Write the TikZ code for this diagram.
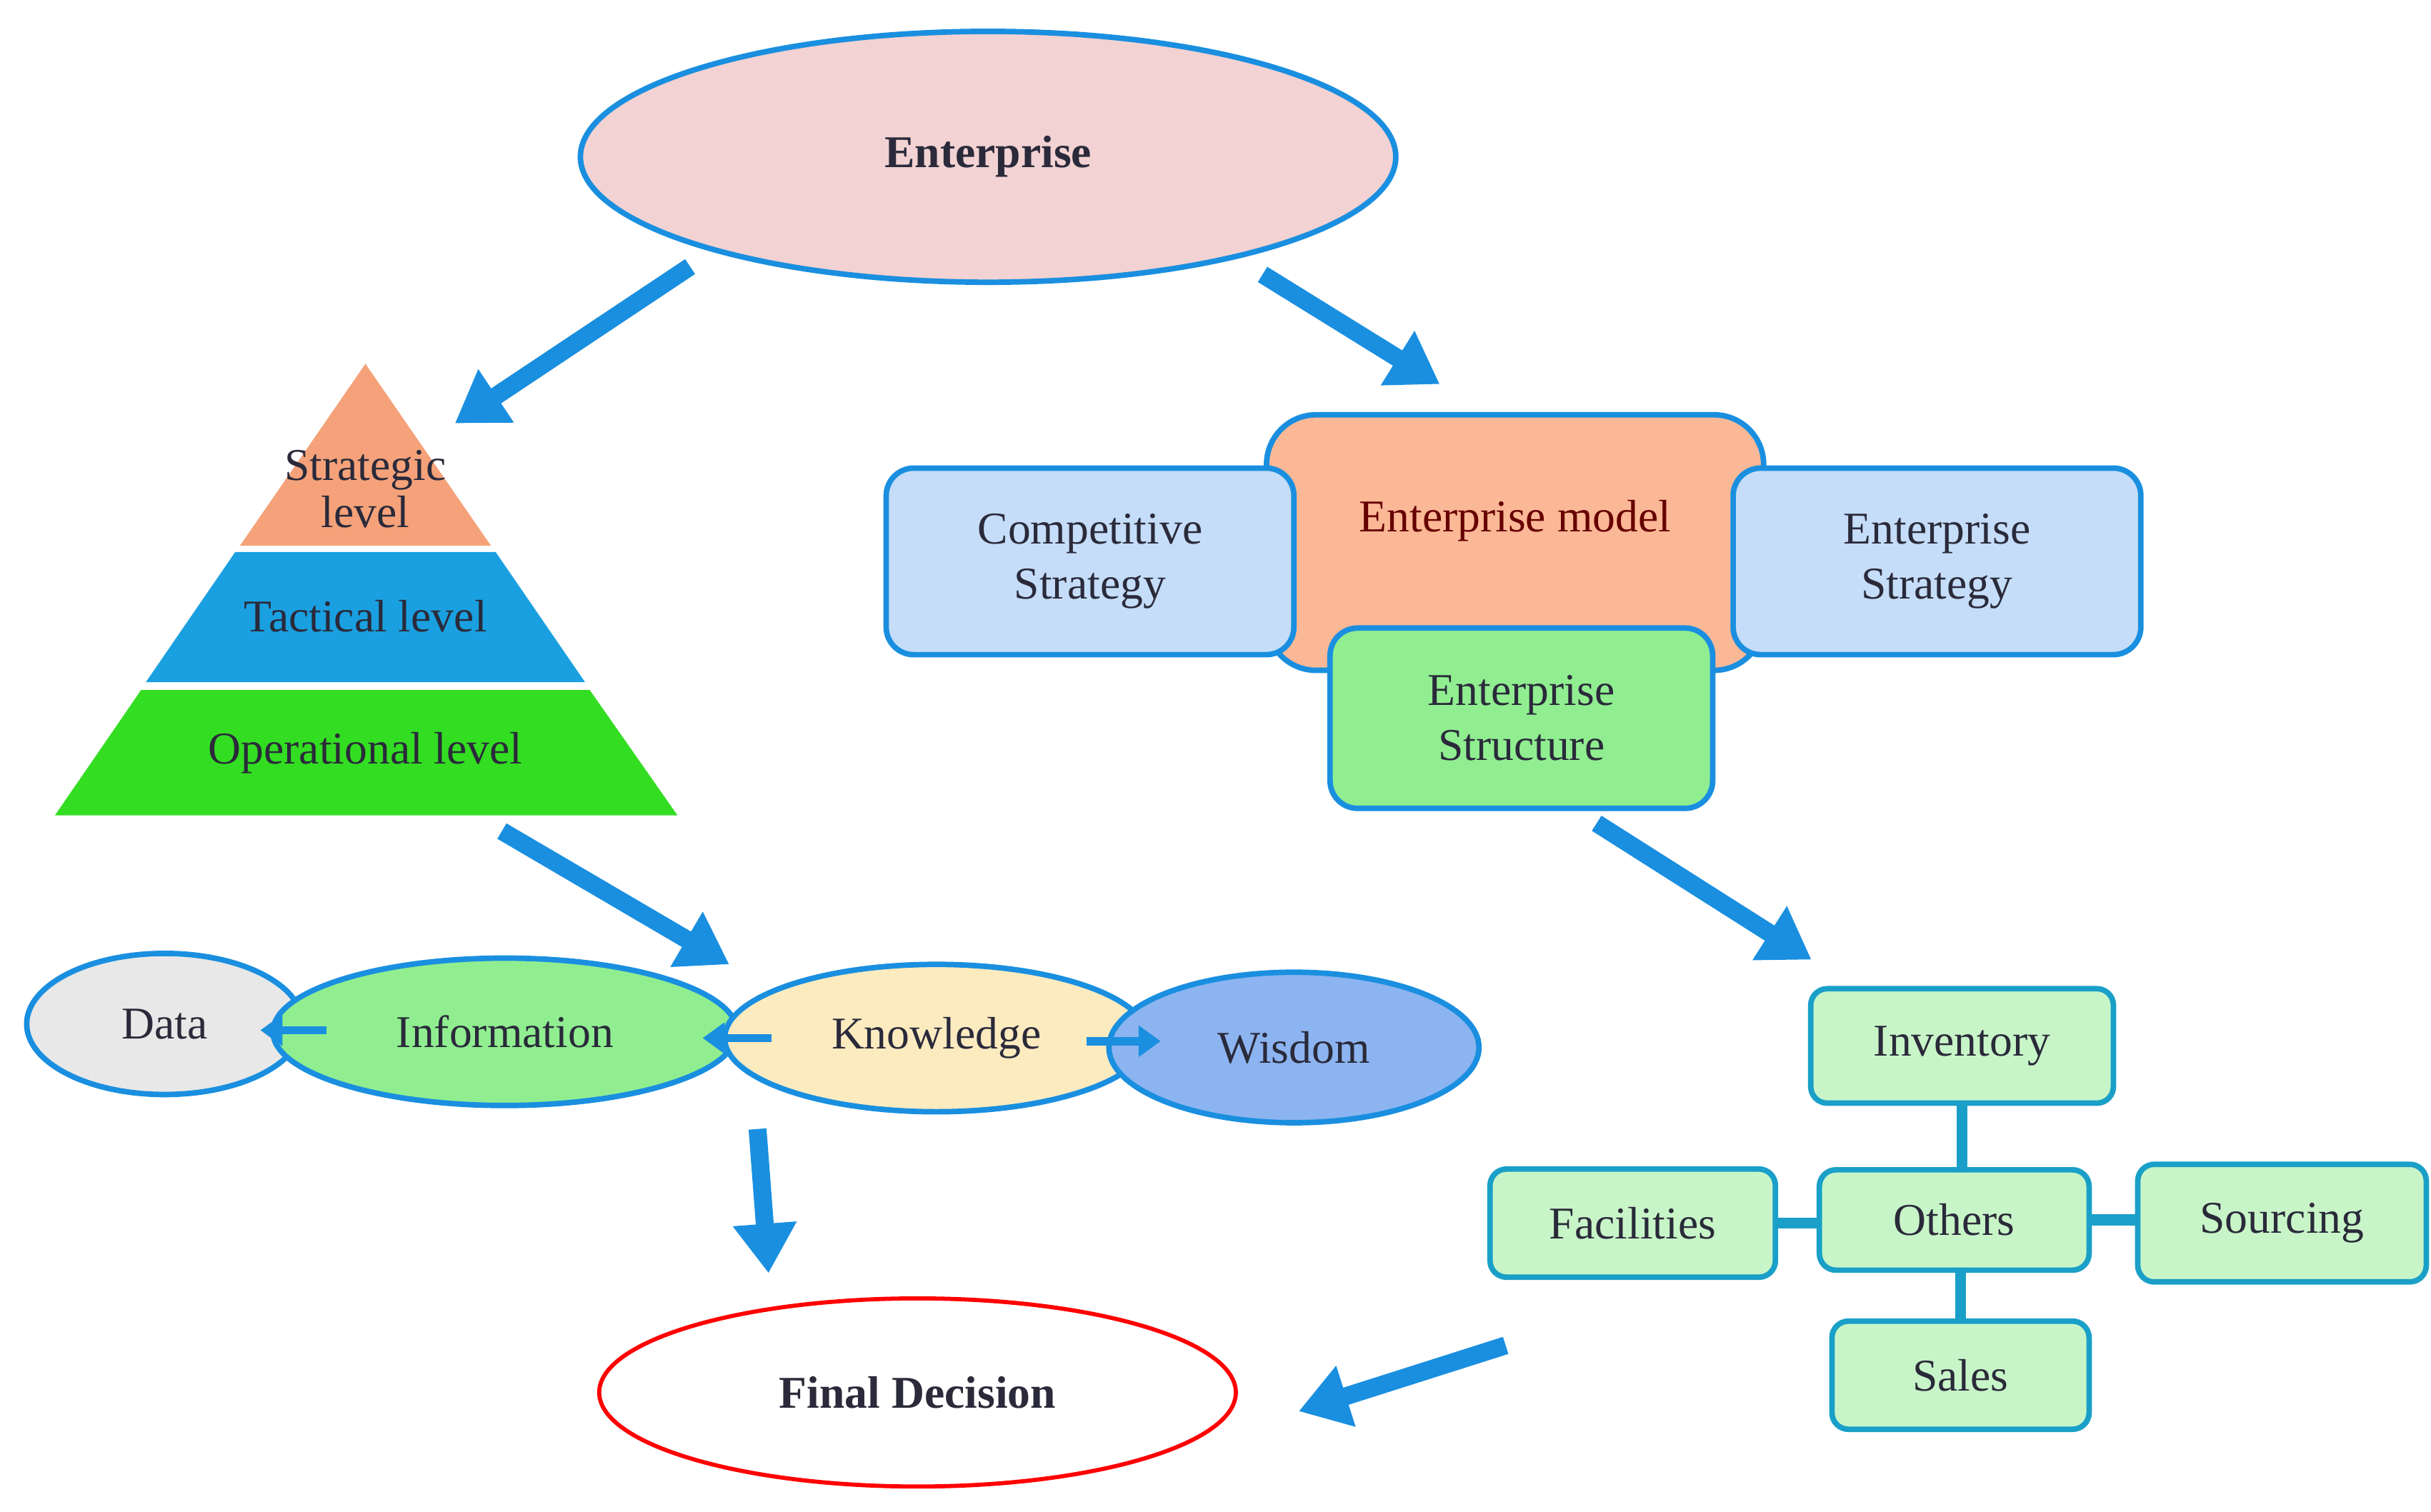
\documentclass[tikz,border=0pt]{standalone}
\usepackage{fontspec}
\setmainfont{Liberation Serif}
\usetikzlibrary{shapes.geometric,arrows.meta}
\definecolor{bl}{HTML}{1A8FE0}
\definecolor{tl}{HTML}{1AA0C8}
\definecolor{pk}{HTML}{F2D2D2}
\definecolor{og}{HTML}{F5A27A}
\definecolor{tb}{HTML}{1AA0E0}
\definecolor{gr}{HTML}{33DD22}
\definecolor{lb}{HTML}{C5DDF8}
\definecolor{sal}{HTML}{FBB896}
\definecolor{mg}{HTML}{90EE90}
\definecolor{lg}{HTML}{C8F5C8}
\definecolor{cr}{HTML}{FDEBC0}
\definecolor{wb}{HTML}{8CB4F0}
\definecolor{tx}{HTML}{2A2A3A}
\begin{document}
\begin{tikzpicture}[x=0.02cm,y=-0.02cm,
  font=\fontsize{16.5}{20}\selectfont, text=tx,
  big/.style={line width=6.5pt,bl,-{Triangle[length=18pt,width=22pt]}},
  small/.style={line width=3pt,bl,-{Triangle[length=8pt,width=11pt]}},
  ell/.style={ellipse,draw=bl,line width=2pt,inner sep=0pt},
  box/.style={draw=bl,line width=2pt,rounded corners=10pt,align=center,inner sep=0pt},
  gbox/.style={draw=tl,line width=2pt,fill=lg,rounded corners=6pt,inner sep=0pt,align=center},
  link/.style={tl,line width=4pt}]
\useasboundingbox (0,0) rectangle (1550,964);
% Enterprise
\node[ell,fill=pk,minimum width=10.4cm,minimum height=3.2cm,font=\fontsize{16.5}{20}\selectfont\bfseries] (ent) at (630,100) {Enterprise};
% pyramid
\fill[og] (233,232) -- (313,348) -- (153,348) -- cycle;
\fill[tb] (150,352) -- (316,352) -- (373,435) -- (93,435) -- cycle;
\fill[gr] (90,440) -- (376,440) -- (432,520) -- (35,520) -- cycle;
\node[align=center] (strat) at (233,312) {Strategic\\[-3pt]level};
\node (tact) at (233,393) {Tactical level};
\node (oper) at (233,480) {Operational level};
% enterprise model group
\node[box,fill=sal,minimum width=6.34cm,minimum height=3.26cm,rounded corners=18pt] (em) at (966,346) {};
\node[text=red!40!black] (emt) at (966,332) {Enterprise model};
\node[box,fill=lb,minimum width=5.2cm,minimum height=2.38cm] (cs) at (695,358) {Competitive\\Strategy};
\node[box,fill=lb,minimum width=5.2cm,minimum height=2.38cm] (es) at (1235,358) {Enterprise\\Strategy};
\node[box,fill=mg,minimum width=4.88cm,minimum height=2.3cm] (est) at (970,458) {Enterprise\\Structure};
% boxes
\node[gbox,minimum width=3.86cm,minimum height=1.46cm] (inv) at (1251,667) {Inventory};
\node[gbox,minimum width=3.44cm,minimum height=1.28cm] (oth) at (1246,778) {Others};
\node[gbox,minimum width=3.64cm,minimum height=1.38cm] (fac) at (1041,780) {Facilities};
\node[gbox,minimum width=3.68cm,minimum height=1.5cm] (src) at (1455,780) {Sourcing};
\node[gbox,minimum width=3.28cm,minimum height=1.38cm] (sal) at (1250,877) {Sales};
\draw[link] (inv.south) -- (inv.south |- oth.north);
\draw[link] (sal.north) -- (sal.north |- oth.south);
\draw[link] (fac.east) -- (oth.west |- fac.east);
\draw[link] (oth.east) -- (src.west |- oth.east);
% ellipses row
\node[ell,fill=gray!18,minimum width=3.52cm,minimum height=1.8cm] (data) at (105,653) {Data};
\node[ell,fill=mg,minimum width=5.92cm,minimum height=1.88cm] (info) at (322,658) {Information};
\node[ell,fill=cr,minimum width=5.4cm,minimum height=1.88cm] (know) at (597,662) {Knowledge};
\node[ell,fill=wb,minimum width=4.72cm,minimum height=1.92cm] (wis) at (825,668) {Wisdom};
\coordinate (a1) at (208,657); \coordinate (a2) at (166,657);
\coordinate (b1) at (492,662); \coordinate (b2) at (448,662);
\coordinate (c1) at (693,664); \coordinate (c2) at (740,664);
\draw[small] (a1) -- (a2); \draw[small] (b1) -- (b2); \draw[small] (c1) -- (c2);
% final decision
\node[ellipse,draw=red,line width=1.5pt,minimum width=8.12cm,minimum height=2.4cm,font=\fontsize{16.5}{20}\selectfont\bfseries] (fd) at (585,888) {Final Decision};
% big arrows
\coordinate (p1) at (440,170); \coordinate (p2) at (290,270);
\coordinate (q1) at (805,175); \coordinate (q2) at (918,245);
\coordinate (r1) at (320,530); \coordinate (r2) at (465,615);
\coordinate (s1) at (483,720); \coordinate (s2) at (490,812);
\coordinate (t1) at (1018,525); \coordinate (t2) at (1155,612);
\coordinate (u1) at (960,858); \coordinate (u2) at (828,900);
\draw[big] (p1) -- (p2); \draw[big] (q1) -- (q2); \draw[big] (r1) -- (r2);
\draw[big] (s1) -- (s2); \draw[big] (t1) -- (t2); \draw[big] (u1) -- (u2);
\end{tikzpicture}
\end{document}
